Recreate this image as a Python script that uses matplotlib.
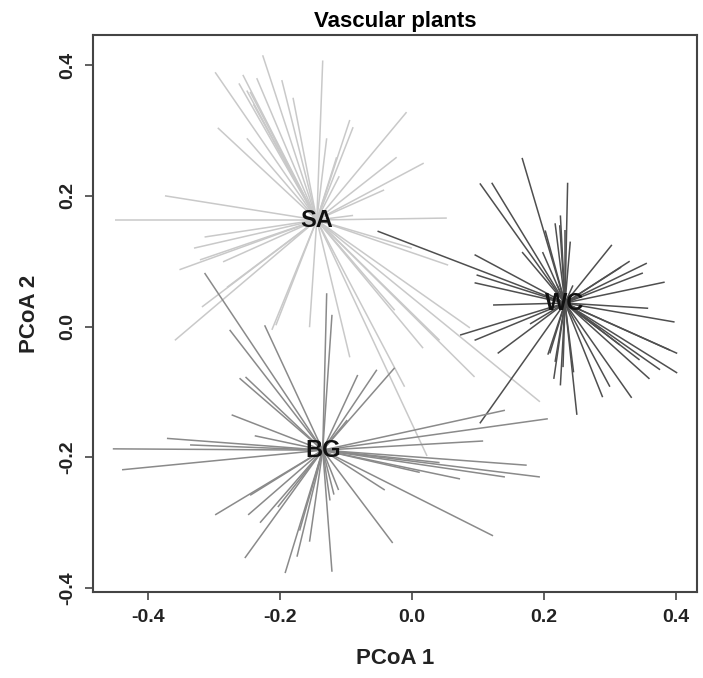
import matplotlib.pyplot as plt
import numpy as np

plt.rcParams["font.family"] = ["Liberation Sans", "DejaVu Sans"]

# group centroids (PCoA 1, PCoA 2)
groups = ["SA", "WC", "BG"]
centroid_x = [-0.144, 0.232, -0.135]
centroid_y = [0.163, 0.036, -0.189]
group_colours = ["#c9c9c9", "#4f4f4f", "#8a8a8a"]

# site scores for each group
sa_x = [-0.450, -0.374, -0.314, -0.321, -0.352, -0.286, -0.359, -0.318, -0.298, -0.294,
        -0.250, -0.256, -0.235, -0.226, -0.197, -0.245, -0.135, -0.129, -0.094, -0.089,
        -0.114, -0.008, -0.023, 0.018, -0.042, 0.053, -0.089, 0.055, 0.017, 0.095,
        0.194, 0.088, 0.023, -0.011, -0.094, -0.155, -0.212, -0.206, -0.026, 0.042,
        -0.250, -0.262, -0.240, -0.180, -0.110, -0.330, -0.280, 0.000]
sa_y = [0.163, 0.200, 0.137, 0.102, 0.087, 0.099, -0.021, 0.030, 0.389, 0.304,
        0.288, 0.385, 0.380, 0.415, 0.377, 0.359, 0.407, 0.288, 0.316, 0.305,
        0.259, 0.328, 0.259, 0.250, 0.209, 0.166, 0.170, 0.094, -0.033, -0.077,
        -0.115, -0.002, -0.198, -0.092, -0.047, -0.001, -0.005, 0.002, 0.025, -0.021,
        0.361, 0.372, 0.340, 0.350, 0.230, 0.120, 0.060, 0.120]

wc_x = [0.167, 0.103, 0.121, 0.236, 0.217, 0.224, 0.232, 0.198, 0.167, 0.095,
        -0.052, 0.098, 0.095, 0.123, 0.073, 0.095, 0.130, 0.103, 0.209, 0.217,
        0.229, 0.250, 0.289, 0.333, 0.300, 0.402, 0.402, 0.391, 0.376, 0.398,
        0.358, 0.383, 0.356, 0.317, 0.303, 0.350, 0.244, 0.220, 0.206, 0.345,
        0.315, 0.202, 0.286, 0.179, 0.225, 0.240, 0.215, 0.225, 0.245, 0.330, 0.360]
wc_y = [0.258, 0.219, 0.220, 0.220, 0.158, 0.155, 0.147, 0.114, 0.114, 0.110,
        0.146, 0.079, 0.067, 0.033, -0.013, -0.021, -0.041, -0.148, -0.041, -0.054,
        -0.062, -0.135, -0.108, -0.109, -0.092, -0.071, -0.041, -0.036, -0.066, 0.007,
        0.028, 0.068, 0.097, 0.091, 0.125, 0.082, 0.063, 0.064, -0.043, -0.051,
        -0.028, 0.147, -0.005, 0.004, 0.170, 0.130, -0.080, -0.090, -0.070, 0.100, -0.080]

bg_x = [-0.453, -0.439, -0.371, -0.336, -0.273, -0.261, -0.252, -0.276, -0.314, -0.223,
        -0.129, -0.121, -0.082, -0.053, -0.026, -0.298, -0.248, -0.230, -0.253, -0.192,
        -0.174, -0.121, -0.029, -0.041, -0.111, -0.118, -0.203, 0.141, 0.206, 0.108,
        0.174, 0.194, 0.141, 0.073, 0.123, -0.170, -0.155, -0.245, 0.042, 0.012,
        -0.124, -0.238, -0.098]
bg_y = [-0.187, -0.219, -0.171, -0.181, -0.135, -0.079, -0.077, -0.005, 0.082, 0.002,
        0.051, 0.018, -0.074, -0.066, -0.063, -0.288, -0.288, -0.300, -0.354, -0.377,
        -0.352, -0.375, -0.331, -0.250, -0.250, -0.257, -0.276, -0.128, -0.141, -0.175,
        -0.212, -0.230, -0.230, -0.233, -0.320, -0.312, -0.329, -0.258, -0.208, -0.223,
        -0.266, -0.167, -0.143]

tick_values = [-0.4, -0.2, 0.0, 0.2, 0.4]
tick_labels = ["-0.4", "-0.2", "0.0", "0.2", "0.4"]

site_x = [sa_x, wc_x, bg_x]
site_y = [sa_y, wc_y, bg_y]

fig = plt.figure(figsize=(7.03, 6.78), dpi=100)
ax = fig.add_axes([0.1323, 0.1268, 0.8592, 0.8216])

# spider lines from each centroid to its sites
for cx, cy, xs, ys, col in zip(centroid_x, centroid_y, site_x, site_y, group_colours):
    for px, py in zip(xs, ys):
        ax.plot([cx, px], [cy, py], color=col, linewidth=1.1, solid_capstyle="butt")

# group labels at centroids
for name, cx, cy in zip(groups, centroid_x, centroid_y):
    ax.text(cx, cy, name, ha="center", va="center", fontsize=17,
            fontweight="bold", color="#111111")

ax.set_xlim(-0.483, 0.432)
ax.set_ylim(-0.406, 0.446)
ax.set_xticks(tick_values)
ax.set_yticks(tick_values)
ax.set_xticklabels(tick_labels, fontweight="bold")
ax.set_yticklabels(tick_labels, rotation=90, va="center", fontweight="bold")
ax.tick_params(axis="both", length=6, width=1.2, color="#444444",
               labelsize=14, pad=6, labelcolor="#222222")

for spine in ax.spines.values():
    spine.set_color("#444444")
    spine.set_linewidth(1.5)

ax.set_title("Vascular plants", fontsize=16, fontweight="bold", pad=6)
ax.set_xlabel("PCoA 1", fontsize=16, fontweight="bold", labelpad=16, color="#222222")
ax.set_ylabel("PCoA 2", fontsize=16, fontweight="bold", labelpad=14, color="#222222")

plt.savefig("out.png", dpi=100)
